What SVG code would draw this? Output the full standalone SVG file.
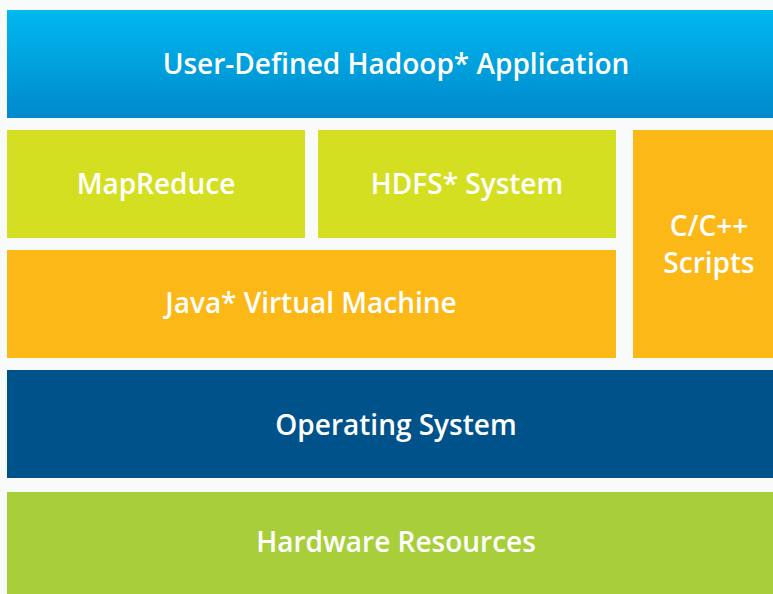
<svg xmlns="http://www.w3.org/2000/svg" width="773" height="594" viewBox="0 0 773 594">
<defs>
<linearGradient id="gTop" x1="0" y1="0" x2="0" y2="1">
<stop offset="0" stop-color="#00b9ef"/>
<stop offset="1" stop-color="#0089cc"/>
</linearGradient>
<style>
.t{font-family:"Open Sans","Liberation Sans",sans-serif;font-weight:600;fill:#ffffff;text-anchor:middle;font-size:28px}
</style>
</defs>
<rect x="0" y="0" width="773" height="594" fill="#f9fafa"/>
<g id="app"><rect x="7" y="10" width="766" height="108" fill="url(#gTop)"/><text class="t" x="396" y="74">User-Defined Hadoop* Application</text></g>
<g id="mapreduce"><rect x="7" y="130" width="298" height="108" fill="#d5df21"/><text class="t" x="156" y="194">MapReduce</text></g>
<g id="hdfs"><rect x="318" y="130" width="298" height="108" fill="#d5df21"/><text class="t" x="467" y="194">HDFS* System</text></g>
<g id="scripts"><rect x="633" y="130" width="140" height="228" fill="#fbb817"/><text class="t" x="709" y="236">C/C++</text><text class="t" x="709" y="273">Scripts</text></g>
<g id="jvm"><rect x="7" y="250" width="609" height="108" fill="#fbb817"/><text class="t" x="311" y="313">Java* Virtual Machine</text></g>
<g id="os"><rect x="7" y="370" width="766" height="108" fill="#00538a"/><text class="t" x="396" y="435">Operating System</text></g>
<g id="hw"><rect x="7" y="492" width="766" height="102" fill="#a8cf3a"/><text class="t" x="396" y="552">Hardware Resources</text></g>
<g id="connectors"></g>
</svg>
